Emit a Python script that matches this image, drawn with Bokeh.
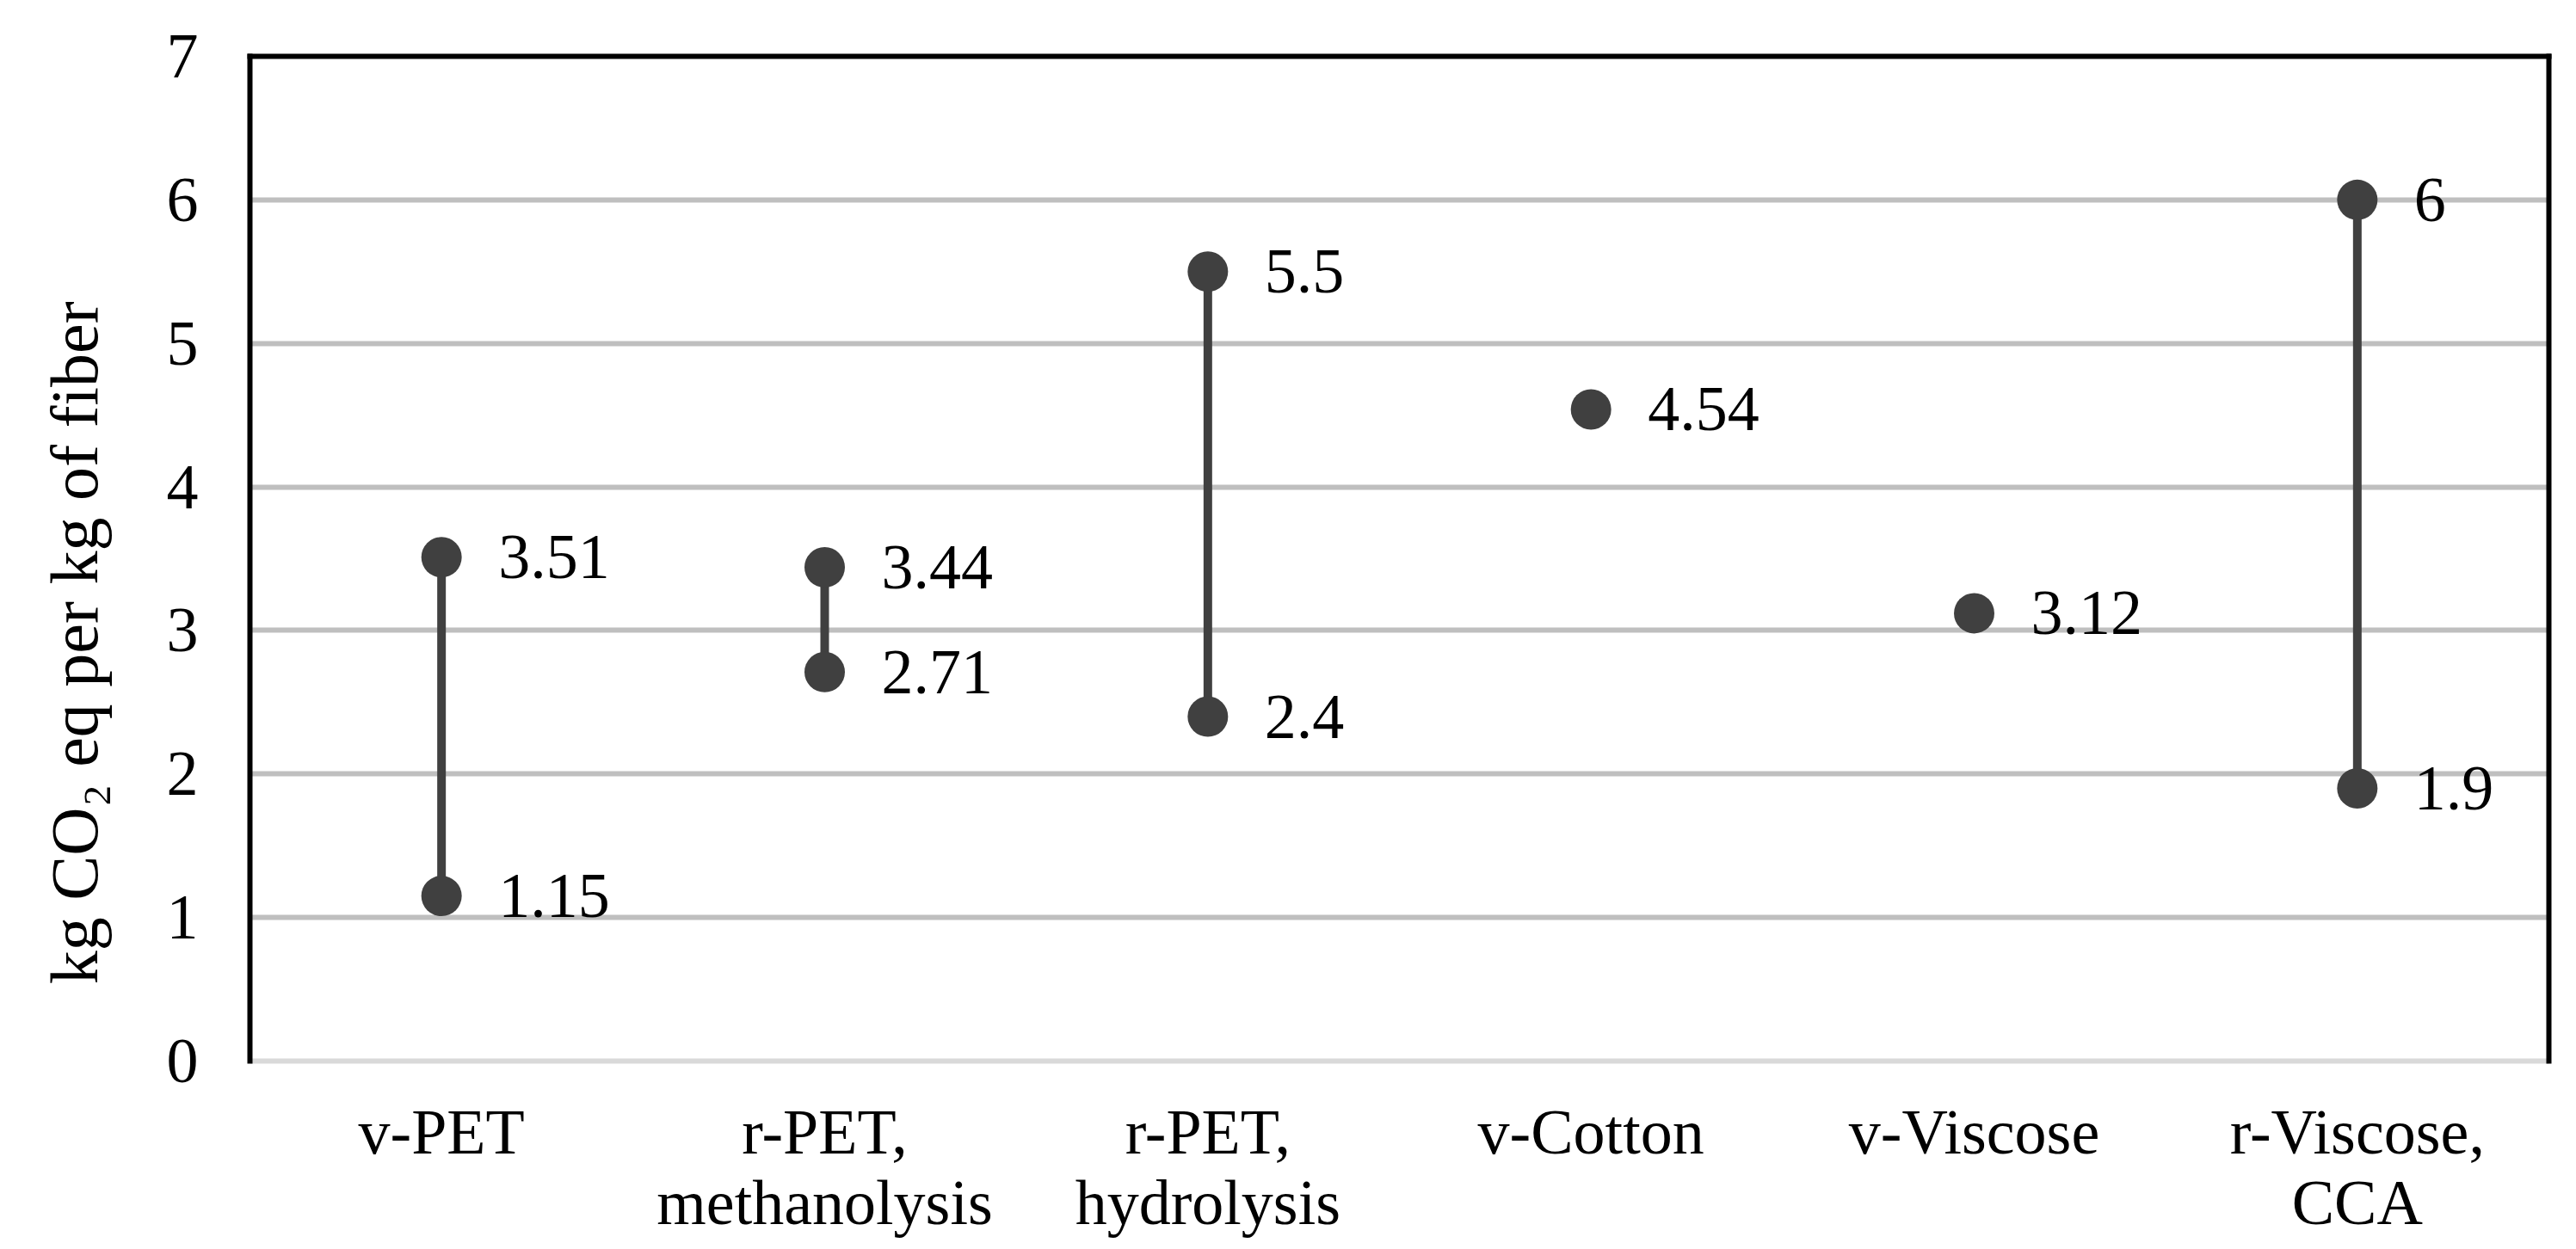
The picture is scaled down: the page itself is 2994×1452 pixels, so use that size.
from math import pi
from bokeh.plotting import figure
from bokeh.layouts import row
from bokeh.models import (FactorRange, Range1d, LinearAxis, CategoricalAxis, FixedTicker,
                          ColumnDataSource)
from bokeh.core.properties import value
from bokeh.embed import file_html
from bokeh.resources import INLINE

# ---- data ----
categories = ["v-PET", "r-PET,\nmethanolysis", "r-PET,\nhydrolysis",
              "v-Cotton", "v-Viscose", "r-Viscose,\nCCA"]
high_values = [3.51, 3.44, 5.5, 4.54, 3.12, 6.0]
high_labels = ["3.51", "3.44", "5.5", "4.54", "3.12", "6"]
low_values = [1.15, 2.71, 2.4, None, None, 1.9]
low_labels = ["1.15", "2.71", "2.4", None, None, "1.9"]
y_ticks = [0, 1, 2, 3, 4, 5, 6, 7]
grid_ticks = [1, 2, 3, 4, 5, 6]
y_title = "kg CO\u2082 eq per kg of fiber"

FONT = "Liberation Serif"
FS = "74px"
DARK = "#404040"
TOTAL_H = 1444
TITLE_W = 180

# points
px, py, pt = [], [], []
for c, hv, hl, lv, ll in zip(categories, high_values, high_labels, low_values, low_labels):
    px.append(c); py.append(hv); pt.append(hl)
    if lv is not None:
        px.append(c); py.append(lv); pt.append(ll)
pts = ColumnDataSource(dict(x=px, y=py, t=pt))

seg_x, seg_lo, seg_hi = [], [], []
for c, hv, lv in zip(categories, high_values, low_values):
    if lv is not None:
        seg_x.append(c); seg_lo.append(lv); seg_hi.append(hv)
segs = ColumnDataSource(dict(x=seg_x, lo=seg_lo, hi=seg_hi))

p = figure(frame_width=2672, frame_height=1168, output_backend="svg", toolbar_location=None,
           x_range=FactorRange(factors=categories, range_padding=0),
           y_range=Range1d(0, 7),
           min_border_left=290 - TITLE_W, min_border_top=65, min_border_right=16,
           min_border_bottom=TOTAL_H - 65 - 1168)
p.outline_line_color = None
p.background_fill_color = "white"
p.border_fill_color = "white"

# grid
p.xgrid.visible = False
p.ygrid.ticker = FixedTicker(ticks=grid_ticks)
p.ygrid.grid_line_color = "#bfbfbf"
p.ygrid.grid_line_width = 6

# left axis
ya = p.yaxis[0]
ya.ticker = FixedTicker(ticks=y_ticks)
ya.axis_line_color = "black"
ya.axis_line_width = 6
ya.axis_line_cap = "square"
ya.major_tick_line_color = None
ya.minor_tick_line_color = None
ya.major_tick_out = 0
ya.major_tick_in = 0
ya.major_label_standoff = 60
ya.major_label_text_font = FONT
ya.major_label_text_font_size = FS
ya.major_label_text_color = "black"

# bottom axis
xa = p.xaxis[0]
xa.axis_line_color = "#d9d9d9"
xa.axis_line_width = 6
xa.major_tick_line_color = None
xa.minor_tick_line_color = None
xa.major_tick_out = 0
xa.major_tick_in = 0
xa.major_label_standoff = 41
xa.major_label_text_font = FONT
xa.major_label_text_font_size = FS
xa.major_label_text_line_height = 1.0
xa.major_label_text_color = "black"

# top & right frame lines
top = CategoricalAxis(axis_line_color="black", axis_line_width=6, axis_line_cap="square",
                      major_tick_line_color=None, minor_tick_line_color=None,
                      major_tick_out=0, major_tick_in=0,
                      major_label_standoff=0, major_label_text_font_size="0px",
                      major_label_text_alpha=0)
p.add_layout(top, "above")
right = LinearAxis(ticker=FixedTicker(ticks=[]),
                   axis_line_color="black", axis_line_width=6, axis_line_cap="square",
                   major_tick_line_color=None, minor_tick_line_color=None,
                   major_tick_out=0, major_tick_in=0,
                   major_label_standoff=0, major_label_text_font_size="0px")
p.add_layout(right, "right")

# glyphs
p.segment(x0="x", y0="lo", x1="x", y1="hi", source=segs, line_color=DARK, line_width=10)
p.scatter(x="x", y="y", source=pts, size=47, fill_color=DARK, line_color=None)
p.text(x="x", y="y", text="t", source=pts, x_offset=66, text_align="left",
       text_baseline="middle", text_font=value(FONT), text_font_size=FS,
       text_color="black")

# y-axis title in a narrow side panel (pixel coordinates)
t = figure(width=TITLE_W, height=TOTAL_H, output_backend="svg", toolbar_location=None,
           x_range=Range1d(0, TITLE_W), y_range=Range1d(0, TOTAL_H),
           min_border_left=0, min_border_right=0, min_border_top=0, min_border_bottom=0)
t.axis.visible = False
t.grid.visible = False
t.outline_line_color = None
t.background_fill_color = "white"
t.border_fill_color = "white"
t.text(x=[86], y=[TOTAL_H - 843], text=[y_title], angle=pi / 2,
       text_align="center", text_baseline="alphabetic",
       text_font=value(FONT), text_font_size="78px", text_color="black")

layout = row(t, p, spacing=0)
open("out.html", "w").write(file_html(layout, INLINE))
